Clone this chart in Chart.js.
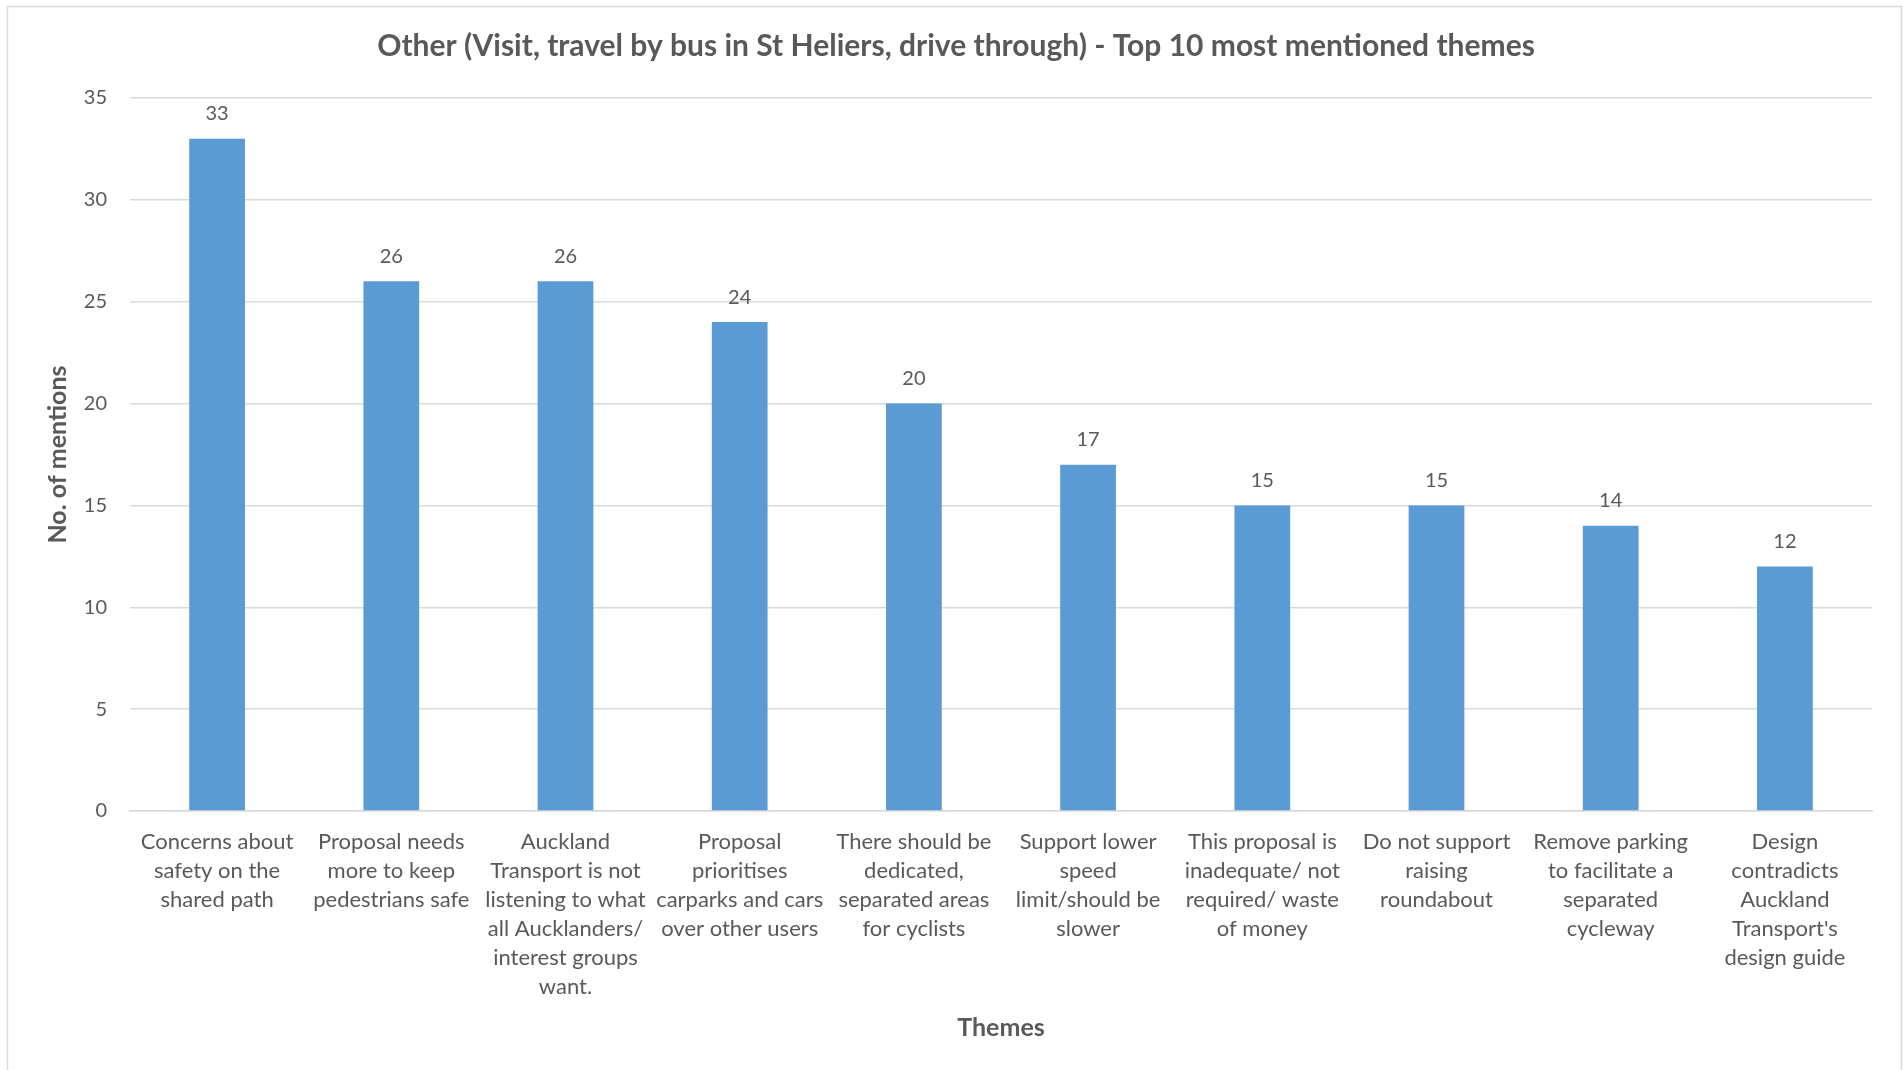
<!DOCTYPE html>
<html>
<head>
<meta charset="utf-8">
<script src="https://cdn.jsdelivr.net/npm/chart.js@4"></script>
<style>
  html, body { margin: 0; padding: 0; background: #fff; overflow: hidden; }
  #wrap { position: absolute; left: 0; top: 0; width: 1903px; height: 1070px; }
</style>
</head>
<body>
<div id="wrap"><canvas id="themes-chart"></canvas></div>
<script>
// Data
const themes = [
  ['Concerns about', 'safety on the', 'shared path'],
  ['Proposal needs', 'more to keep', 'pedestrians safe'],
  ['Auckland', 'Transport is not', 'listening to what', 'all Aucklanders/', 'interest groups', 'want.'],
  ['Proposal', 'prioritises', 'carparks and cars', 'over other users'],
  ['There should be', 'dedicated,', 'separated areas', 'for cyclists'],
  ['Support lower', 'speed', 'limit/should be', 'slower'],
  ['This proposal is', 'inadequate/ not', 'required/ waste', 'of money'],
  ['Do not support', 'raising', 'roundabout'],
  ['Remove parking', 'to facilitate a', 'separated', 'cycleway'],
  ['Design', 'contradicts', 'Auckland', "Transport's", 'design guide']
];
const mentions = [33, 26, 26, 24, 20, 17, 15, 15, 14, 12];
const yTicks = [0, 5, 10, 15, 20, 25, 30, 35];

const textGrey = '#595959';
const gridGrey = '#d9d9d9';
const fontFamily = 'Lato, "Open Sans", sans-serif';

// Outer frame of the chart
const framePlugin = {
  id: 'frame',
  beforeDraw(chart) {
    const ctx = chart.ctx;
    ctx.save();
    ctx.strokeStyle = gridGrey;
    ctx.lineWidth = 1.5;
    ctx.strokeRect(7.5, 6.5, 1894, 1100);
    ctx.restore();
  }
};

// Value labels above each bar
const valueLabels = {
  id: 'valueLabels',
  afterDatasetsDraw(chart) {
    const ctx = chart.ctx;
    const meta = chart.getDatasetMeta(0);
    ctx.save();
    ctx.fillStyle = textGrey;
    ctx.font = '20px ' + fontFamily;
    ctx.textAlign = 'center';
    ctx.textBaseline = 'middle';
    meta.data.forEach((bar, i) => {
      ctx.fillText(chart.data.datasets[0].data[i], bar.x, bar.y - 25);
    });
    ctx.restore();
  }
};

const themes_data = {
  labels: themes,
  datasets: [{
    label: 'No. of mentions',
    backgroundColor: '#5b9bd5',
    borderWidth: 0,
    data: mentions,
    barPercentage: 0.64,
    categoryPercentage: 0.5
  }]
};

const themes_config = {
  type: 'bar',
  data: themes_data,
  options: {
    responsive: false,
    animation: false,
    layout: { padding: { left: 40, right: 31, top: 0, bottom: 0 } },
    plugins: {
      legend: { display: false },
      tooltip: { enabled: false },
      title: {
        display: true,
        text: 'Other (Visit, travel by bus in St Heliers, drive through) - Top 10 most mentioned themes',
        color: textGrey,
        font: { family: fontFamily, size: 30, weight: 'bold', lineHeight: 1.2 },
        padding: { top: 28, bottom: 34 }
      }
    },
    scales: {
      y: {
        min: 0,
        max: 35,
        afterFit(scale) { scale.width = 90; },
        afterBuildTicks(scale) { scale.ticks = yTicks.map(v => ({ value: v })); },
        border: { display: false },
        grid: { color: gridGrey, lineWidth: 1.5, drawTicks: false },
        ticks: {
          color: textGrey,
          padding: 23,
          font: { family: fontFamily, size: 20 }
        },
        title: {
          display: true,
          text: 'No. of mentions',
          color: textGrey,
          font: { family: fontFamily, size: 25, weight: 'bold', lineHeight: 1.2 },
          padding: { top: 3, bottom: 0 }
        }
      },
      x: {
        afterFit(scale) { scale.height = 259; },
        border: { display: true, color: gridGrey, width: 1.5 },
        grid: { display: false, drawTicks: false },
        ticks: {
          color: textGrey,
          padding: 16,
          autoSkip: false,
          maxRotation: 0,
          font: { family: fontFamily, size: 22, lineHeight: 1.318 }
        },
        title: {
          display: true,
          text: 'Themes',
          color: textGrey,
          font: { family: fontFamily, size: 25, weight: 'bold', lineHeight: 1.2 },
          padding: { top: 0, bottom: 27 }
        }
      }
    }
  },
  plugins: [framePlugin, valueLabels]
};

const canvas = document.getElementById('themes-chart');
canvas.width = 1903;
canvas.height = 1070;

var themesChart = new Chart(canvas, themes_config);
</script>
</body>
</html>
